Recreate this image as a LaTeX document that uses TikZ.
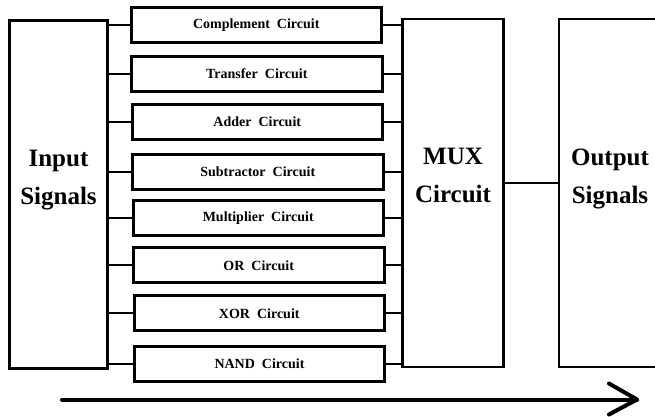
\documentclass[tikz,border=0pt]{standalone}
\usepackage{fontspec}
\setmainfont{Liberation Serif}
\begin{document}
\begin{tikzpicture}[x=1pt,y=-1pt,
  bigbox/.style={draw=black, line width=2.2pt, inner sep=0pt, minimum width=101pt, minimum height=348pt},
  inbox/.style={draw=black, line width=3pt, inner sep=0pt, minimum width=98pt, minimum height=348pt},
  cbox/.style={draw=black, line width=3pt, inner sep=0pt, minimum width=250.5pt, minimum height=35pt,
    font=\fontsize{14}{16}\selectfont\bfseries},
  bigtext/.style={align=center, inner sep=0pt, font=\fontsize{25}{38}\selectfont\bfseries},
  inwire/.style={line width=2.2pt},
  outwire/.style={line width=2pt},
  flow/.style={line width=4pt, line cap=round, line join=round}
]
\clip (0,0) rectangle (655,416);
\fill[white] (0,0) rectangle (655,416);

\node[inbox] (in) at (58.5,194) {};
\node[bigtext] (inT) at ([yshift=14pt]in.center) {Input\\Signals};

\node[cbox] (b1) at (256.25,25.25) {Complement\ \ Circuit};
\node[cbox] (b2) at (256.75,73.75) {Transfer\ \ Circuit};
\node[cbox] (b3) at (257.25,121.75) {Adder\ \ Circuit};
\node[cbox] (b4) at (257.75,171.75) {Subtractor\ \ Circuit};
\node[cbox] (b5) at (258.25,218) {Multiplier\ \ Circuit};
\node[cbox] (b6) at (258.75,265.25) {OR\ \ Circuit};
\node[cbox] (b7) at (259.25,313.25) {XOR\ \ Circuit};
\node[cbox] (b8) at (259.5,363.75) {NAND\ \ Circuit};

\node[bigbox] (mux) at (453,193) {};
\node[bigtext] (muxT) at ([yshift=17.5pt]mux.center) {MUX\\Circuit};

\node[bigbox, minimum width=102pt] (out) at (610,193) {};
\node[bigtext] (outT) at ([yshift=14.5pt]out.center) {Output\\Signals};

\foreach \b in {b1,b2,b3,b4,b5,b6,b7,b8}{
  \draw[inwire] (in.east |- \b.west) -- (\b.west);
  \draw[outwire] (\b.east) -- (mux.west |- \b.east);
}
\draw[outwire] ([yshift=10pt]mux.east) -- ([yshift=10pt]out.west);

\coordinate (as) at (62,399.5);
\coordinate (ae) at (637,399.5);
\draw[flow] (as) -- (ae);
\draw[flow] ([shift={(-28,-16)}]ae) -- (ae) -- ([shift={(-28,15)}]ae);
\end{tikzpicture}
\end{document}
